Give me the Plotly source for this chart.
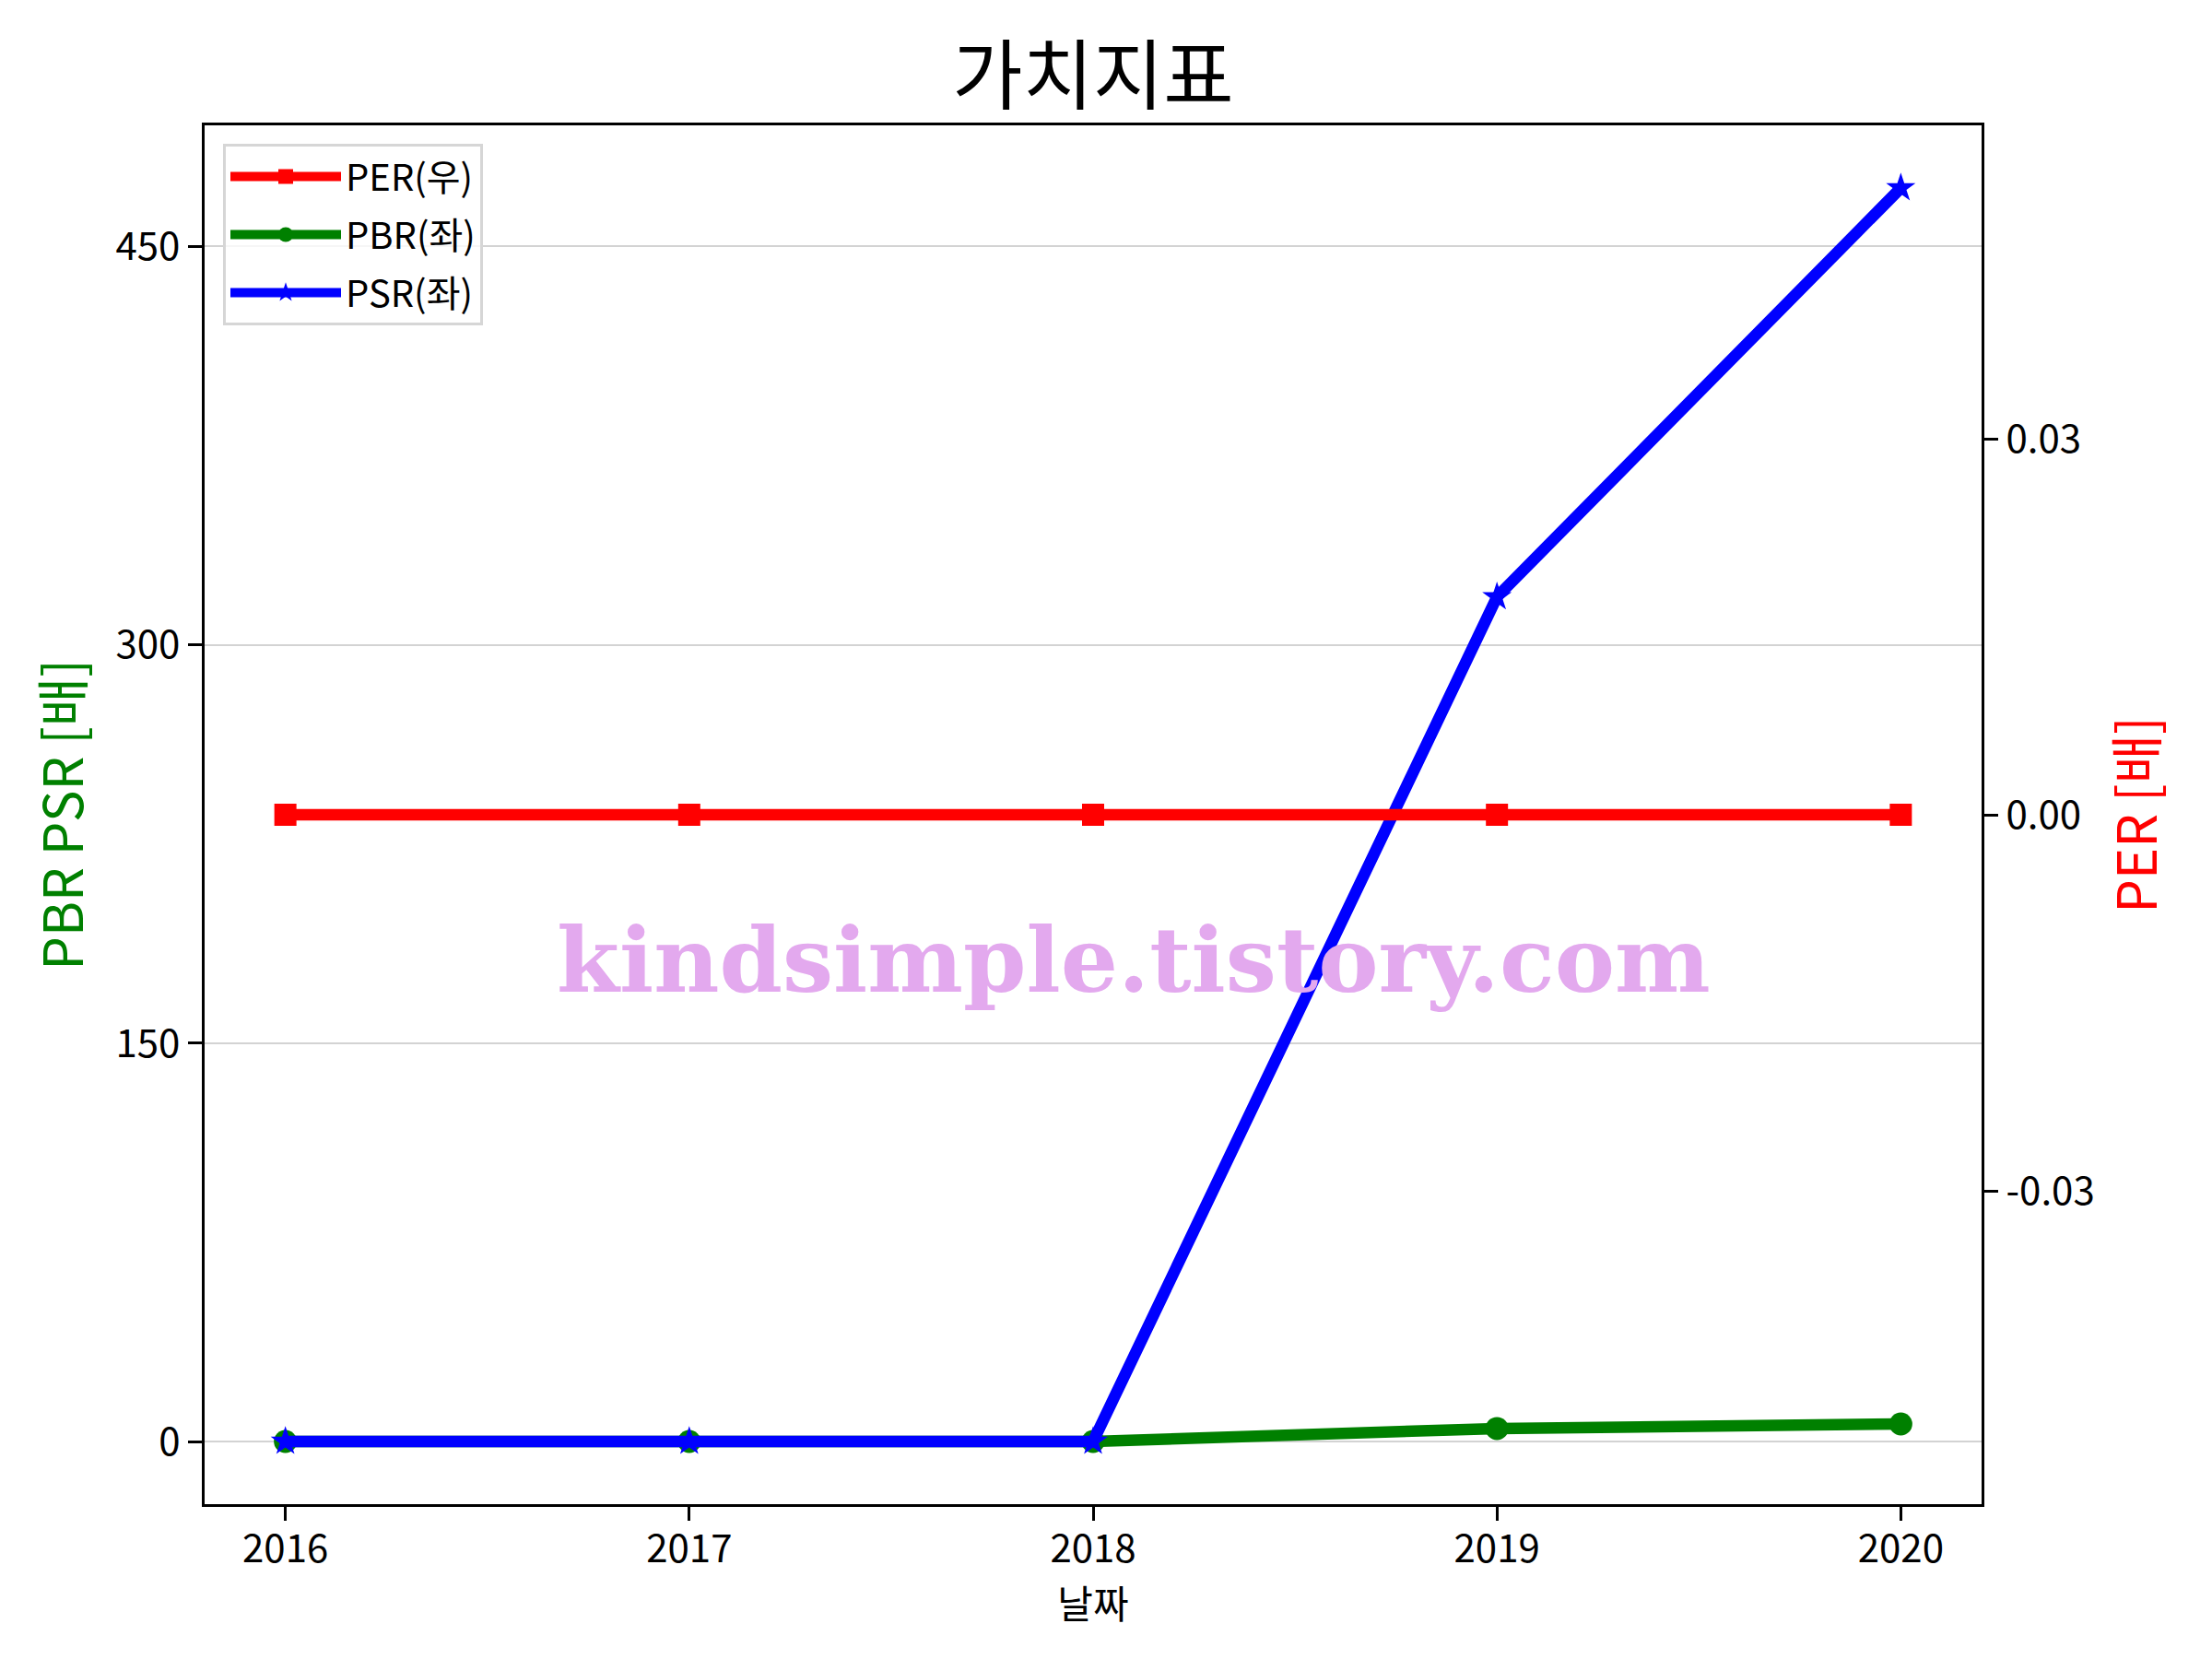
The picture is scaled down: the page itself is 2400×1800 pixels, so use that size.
import plotly.graph_objects as go

years = [2016, 2017, 2018, 2019, 2020]
per = [0, 0, 0, 0, 0]
pbr = [0, 0, 0, 4.9, 6.6]
psr = [0, 0, 0, 318, 472]

left_ticks = [0, 150, 300, 450]
right_ticks = [-0.03, 0.0, 0.03]

FONT = "Noto Sans CJK KR, Malgun Gothic, sans-serif"
W, H = 2400, 1800
OFF = 8  # page body margin
L, T = 222 - OFF, 136 - OFF
PW, PH = 1928, 1496
R, B = W - L - PW, H - T - PH

fig = go.Figure()
fig.add_trace(go.Scatter(x=years, y=per, name="PER(우)", mode="lines+markers",
                         line=dict(color="red", width=12.5), legendgroup="a",
                         marker=dict(symbol="square", size=24, color="red"),
                         yaxis="y2"))
fig.add_trace(go.Scatter(x=years, y=pbr, name="PBR(좌)", mode="lines+markers",
                         line=dict(color="green", width=12.5), legendgroup="b",
                         marker=dict(symbol="circle", size=25, color="green"),
                         yaxis="y"))
fig.add_trace(go.Scatter(x=years, y=psr, name="PSR(좌)", mode="lines+markers",
                         line=dict(color="blue", width=12.5), legendgroup="c",
                         marker=dict(symbol="star", size=24, color="blue"),
                         yaxis="y"))

axis_common = dict(showline=True, linecolor="black", linewidth=3.3,
                   ticks="outside", ticklen=15, tickwidth=3.3, tickcolor="black",
                   tickfont=dict(family=FONT, size=42, color="black"),
                   zeroline=False)

fig.update_layout(
    width=W, height=H,
    margin=dict(l=L, r=R, t=T, b=B, pad=0),
    paper_bgcolor="white", plot_bgcolor="white",
    font=dict(family=FONT, color="black"),
    title=dict(text="가치지표", x=0.5, xref="paper", xanchor="center",
               y=1 - 75 / H, yref="container", yanchor="middle",
               font=dict(family=FONT, size=83, color="black")),
    xaxis=dict(range=[2015.8, 2020.2], tickvals=years,
               ticktext=[str(y) for y in years], mirror=True, showgrid=False,
               ticklabelstandoff=-6,
               title=dict(text="날짜", font=dict(family=FONT, size=42, color="black"), standoff=0),
               **axis_common),
    yaxis=dict(range=[-23.6, 495.6], tickvals=left_ticks,
               ticktext=[str(v) for v in left_ticks],
               showgrid=True, gridcolor="#d3d3d3", gridwidth=1.6,
               title=dict(text="PBR PSR [배]", font=dict(family=FONT, size=58, color="green"), standoff=17),
               **axis_common),
    yaxis2=dict(range=[-0.055, 0.055], tickvals=right_ticks,
                ticktext=[f"{v:.2f}" for v in right_ticks],
                overlaying="y", side="right", showgrid=False,
                title=dict(text="PER [배]", font=dict(family=FONT, size=58, color="red"), standoff=28),
                **axis_common),
    legend=dict(x=(242 - 222) / PW, y=1 - (156 - 136) / PH,
                xanchor="left", yanchor="top",
                bgcolor="rgba(255,255,255,0.8)", bordercolor="#d6d6d6", borderwidth=3,
                font=dict(family=FONT, size=40, color="black"),
                itemwidth=120, tracegroupgap=8),
    showlegend=True,
)

fig.add_annotation(text="<b>kindsimple.tistory.com</b>", xref="paper", yref="paper",
                   x=(1230 - 222) / PW, y=1 - (1041 - 136) / PH,
                   xanchor="center", yanchor="middle", showarrow=False,
                   font=dict(family="DejaVu Serif", size=98, color="#E3A9EE"))

fig.write_html("out.html")
